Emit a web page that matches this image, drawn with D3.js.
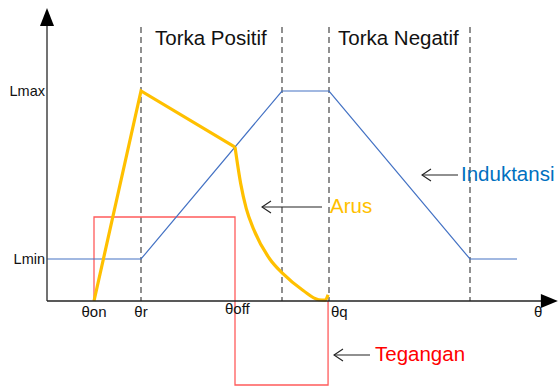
<!DOCTYPE html>
<html><head><meta charset="utf-8">
<script src="https://cdn.jsdelivr.net/npm/d3@7"></script>
<style>body{margin:0;background:#fff}svg{display:block}text{font-family:"Liberation Sans",Arial,sans-serif}</style>
</head><body><svg id="c" width="560" height="390"></svg>
<script>
// angle positions (arbitrary units) and labels
const thetaTicks = [10, 20, 40.5, 60, 104.5];
const thetaLabels = ["θon", "θr", "θoff", "θq", "θ"];
const dashedAt = [20, 50, 60, 90];
// inductance profile
const inductance = [[0,0.2],[20,0.2],[50,1],[60,1],[90,0.2],[100,0.2]];
// current (Arus)
const current = [[10,0],[20,1],[40,0.733],[41.2,0.56],[42.4,0.44],[44,0.34],[47.4,0.2],[50.2,0.13],[54.5,0.05],[57.8,0.006],[59.2,0.004],[59.8,0.03]];
// voltage (Tegangan)
const voltage = [[10,0],[10,0.4],[40,0.4],[40,-0.4],[59.8,-0.4],[59.8,0]];
const levelNames = ["Lmax","Lmin"];
const levelValues = [1, 0.2];
const regionNames = ["Torka Positif","Torka Negatif"];

const svg = d3.select("#c");
const x = d3.scaleLinear().domain([0,100]).range([47,517]);
const y = d3.scaleLinear().domain([-0.4,1]).range([385,91]);
const line = d3.line().x(d=>x(d[0])).y(d=>y(d[1]));

// dashed lines
svg.selectAll(".dash").data(dashedAt).enter().append("line")
  .attr("x1",d=>x(d)).attr("x2",d=>x(d)).attr("y1",27).attr("y2",y(0))
  .attr("stroke","#555").attr("stroke-width",1.3).attr("stroke-dasharray","6,4");

// voltage
svg.append("path").attr("d",line(voltage)).attr("fill","none").attr("stroke","#FF5B5B").attr("stroke-width",1.3);
// inductance
svg.append("path").attr("d",line(inductance)).attr("fill","none").attr("stroke","#4472C4").attr("stroke-width",1.2);
// current: straight segments then curve
svg.append("path").attr("d",line(current.slice(0,3))).attr("fill","none").attr("stroke","#FFC000").attr("stroke-width",3.2).attr("stroke-linejoin","miter");
svg.append("path").attr("d",d3.line().x(d=>x(d[0])).y(d=>y(d[1])).curve(d3.curveMonotoneX)(current.slice(2))).attr("fill","none").attr("stroke","#FFC000").attr("stroke-width",3.2);

// axes
const x0 = x(0), y0 = y(0), xEnd = x(108.7), yTop = y(1.395);
svg.append("line").attr("x1",x0).attr("x2",x0).attr("y1",y0).attr("y2",yTop+16).attr("stroke","#444").attr("stroke-width",1.5);
svg.append("line").attr("x1",x0).attr("x2",xEnd-16).attr("y1",y0).attr("y2",y0).attr("stroke","#222").attr("stroke-width",1.5);
svg.append("path").attr("d",`M${x0},${yTop}L${x0-7},${yTop+18}L${x0+7},${yTop+18}Z`).attr("fill","#000");
svg.append("path").attr("d",`M${xEnd},${y0}L${xEnd-17},${y0-7}L${xEnd-17},${y0+7}Z`).attr("fill","#000");

// level labels
svg.selectAll(".lv").data(levelValues).enter().append("text")
  .attr("x",x0-2).attr("y",d=>y(d)+5).attr("text-anchor","end").attr("font-size",14.5).attr("fill","#111")
  .text((d,i)=>levelNames[i]);

// theta labels
const thetaAnchor = ["middle","middle","middle","start","middle"];
const thetaDx = [0,0,0,2,0];
const thetaDy = [16,16,13,16,16];
svg.selectAll(".th").data(thetaTicks).enter().append("text")
  .attr("x",(d,i)=>x(d)+thetaDx[i]).attr("y",(d,i)=>y0+thetaDy[i])
  .attr("text-anchor",(d,i)=>thetaAnchor[i]).attr("font-size",15).attr("fill","#111")
  .text((d,i)=>thetaLabels[i]);

// region labels
svg.append("text").attr("x",155).attr("y",45).attr("font-size",20.5).attr("fill","#111").text(regionNames[0]);
svg.append("text").attr("x",338).attr("y",45).attr("font-size",20.5).attr("fill","#111").text(regionNames[1]);

// annotations with open arrows
function note(x1,x2,yy,tx,label,color){
  svg.append("line").attr("x1",x1).attr("x2",x2).attr("y1",yy).attr("y2",yy).attr("stroke","#222").attr("stroke-width",1.1);
  svg.append("path").attr("d",`M${x1+9},${yy-6}L${x1},${yy}L${x1+9},${yy+6}`).attr("fill","none").attr("stroke","#222").attr("stroke-width",1.1);
  svg.append("text").attr("x",tx).attr("y",yy+6).attr("font-size",20.5).attr("fill",color).text(label);
}
note(422,458,175,461,"Induktansi","#0070C0");
note(262,322,207,330,"Arus","#FFC000");
note(334,370,355,375,"Tegangan","#FF0000");
</script></body></html>
